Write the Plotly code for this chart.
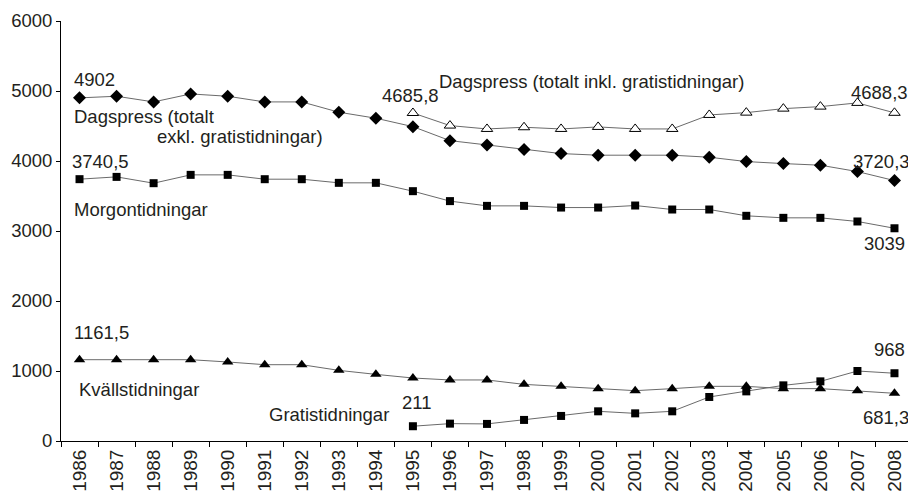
import plotly.graph_objects as go

years = [str(y) for y in range(1986, 2009)]

dagspress_exkl = [4902, 4925, 4844, 4958, 4925, 4844, 4844, 4697, 4611, 4491, 4291,
                  4230, 4163, 4106, 4083, 4083, 4083, 4054, 3992, 3963, 3940, 3849, 3720.3]
dagspress_inkl = [None] * 9 + [4685.8, 4506, 4458, 4482, 4458, 4487, 4458, 4458,
                               4658, 4691, 4748, 4777, 4830, 4688.3]
morgon = [3740.5, 3773, 3683, 3802, 3802, 3740, 3740, 3688, 3688, 3569, 3427,
          3359, 3359, 3335, 3335, 3364, 3307, 3307, 3217, 3188, 3188, 3136, 3039]
kvall = [1161.5, 1161.5, 1161.5, 1161.5, 1129, 1090, 1090, 1009, 952, 900, 872,
         872, 809, 781, 748, 719, 748, 781, 781, 748, 748, 719, 681.3]
gratis = [None] * 9 + [211, 248, 244, 301, 358, 424, 395, 424, 629, 709, 795, 852, 1000, 968]

FONT = "Liberation Sans, Arial, Helvetica, sans-serif"
TXT = "#231f20"
LINE = "#6a6a6a"

fig = go.Figure()

def add(y, symbol, size, fill="black", lw=1):
    fig.add_trace(go.Scatter(
        x=years, y=y, mode="lines+markers",
        line=dict(color=LINE, width=1),
        marker=dict(symbol=symbol, size=size, color=fill,
                    line=dict(color="black", width=lw)),
        connectgaps=False, showlegend=False, hoverinfo="skip"))

add(dagspress_exkl, "diamond", 10, lw=0)
add(dagspress_inkl, "triangle-up", 10, fill="white", lw=1)
add(morgon, "square", 8, lw=0)
add(kvall, "triangle-up", 10, lw=0)
add(gratis, "square", 8, lw=0)

# annotations: (text, x index, y value, anchor)
labels = [
    ("4902", -0.19, 5158, "left"),
    ("Dagspress (totalt", -0.19, 4630, "left"),
    ("exkl. gratistidningar)", 2.05, 4344, "left"),
    ("4685,8", 8.10, 4929, "left"),
    ("Dagspress (totalt inkl. gratistidningar)", 9.64, 5129, "left"),
    ("4688,3", 22.41, 4972, "right"),
    ("3720,3", 22.46, 3987, "right"),
    ("3740,5", -0.27, 3987, "left"),
    ("Morgontidningar", -0.19, 3302, "left"),
    ("3039", 22.33, 2817, "right"),
    ("1161,5", -0.19, 1547, "left"),
    ("Kvällstidningar", -0.08, 734, "left"),
    ("Gratistidningar", 5.07, 377, "left"),
    ("211", 8.64, 548, "left"),
    ("968", 22.33, 1304, "right"),
    ("681,3", 22.45, 334, "right"),
]
for t, xi, yv, anc in labels:
    fig.add_annotation(x=xi, y=yv, xref="x", yref="y", text=t, showarrow=False,
                       xanchor=anc, yanchor="middle",
                       font=dict(family=FONT, size=18.5, color=TXT))

# page body has an 8px margin; the figure is sized so the plot area lands
# at the reference position inside the 916x494 window
fig.update_layout(
    width=908, height=486,
    margin=dict(l=53, r=3, t=13, b=53),
    paper_bgcolor="white", plot_bgcolor="white",
    font=dict(family=FONT, size=18, color=TXT),
)
fig.update_xaxes(
    type="category", range=[-0.5, 22.5], tickson="boundaries",
    ticks="outside", ticklen=5, tickcolor="black", tickwidth=1,
    showline=True, linecolor="black", linewidth=1,
    showgrid=False, zeroline=False, tickangle=-90, automargin=False,
    tickfont=dict(family=FONT, size=19, color=TXT),
)
fig.update_yaxes(
    range=[0, 6000], tickvals=[0, 1000, 2000, 3000, 4000, 5000, 6000],
    ticks="outside", ticklen=4, tickcolor="black", tickwidth=1,
    showline=True, linecolor="black", linewidth=1,
    showgrid=False, zeroline=False, automargin=False,
    tickfont=dict(family=FONT, size=18.5, color=TXT),
)

fig.write_html("out.html")
